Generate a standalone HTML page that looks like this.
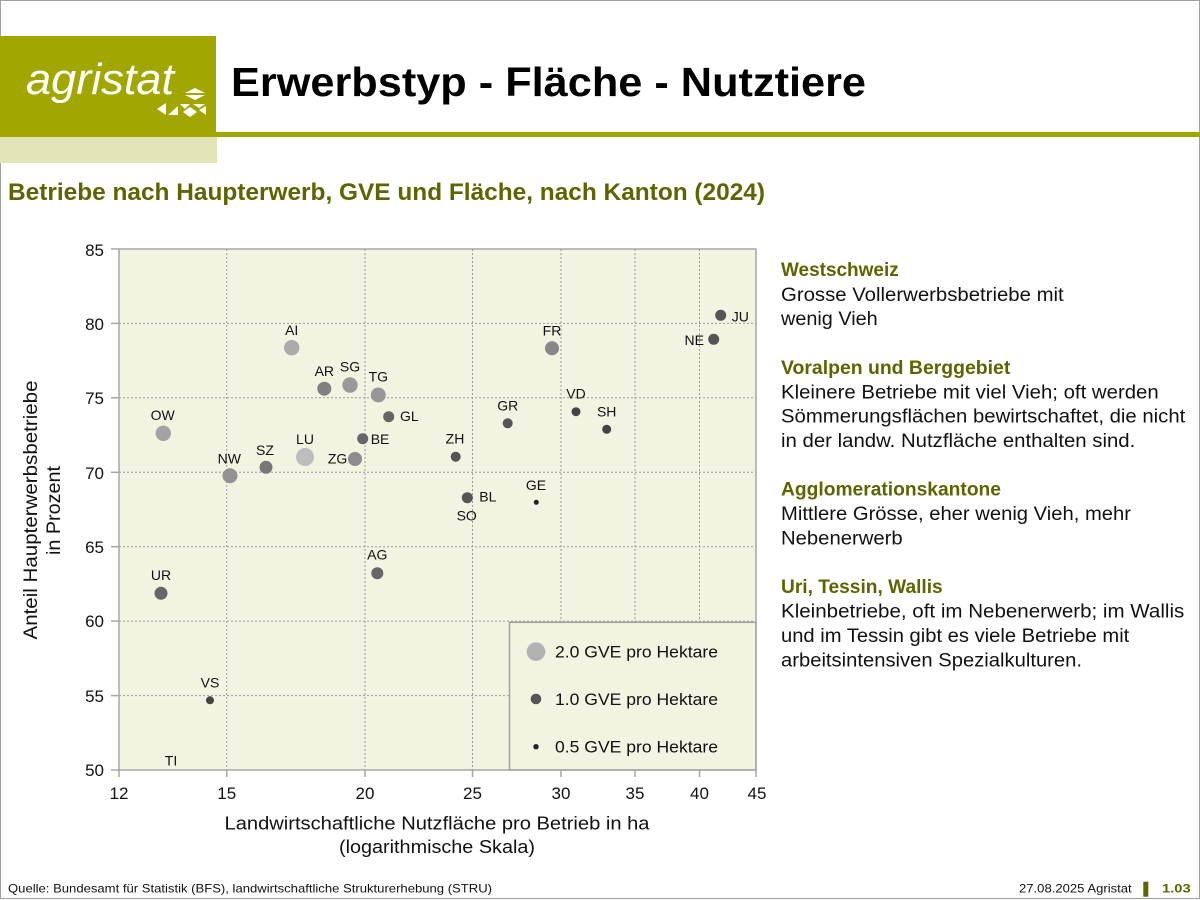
<!DOCTYPE html>
<html><head><meta charset="utf-8"><style>
html,body{margin:0;padding:0;background:#fff;}
svg{display:block;}
text{font-family:"Liberation Sans",sans-serif;}
</style></head><body>
<svg width="1200" height="900" viewBox="0 0 1200 900" xmlns="http://www.w3.org/2000/svg">
<rect x="0" y="0" width="1200" height="900" fill="#fff"/>
<rect x="0.5" y="0.5" width="1199" height="898" fill="none" stroke="#a0a0a0" stroke-width="1"/>

<!-- header -->
<rect x="0" y="36" width="216" height="101" fill="#a1a700"/>
<rect x="0" y="137" width="217" height="26" fill="#e3e5b9"/>
<rect x="216" y="132" width="984" height="5" fill="#a1a700"/>
<text x="26" y="94" font-size="44" font-style="italic" fill="#fff" textLength="148" lengthAdjust="spacingAndGlyphs">agristat</text>
<g fill="#fff">
<polygon points="185,93 195,88 205,93"/>
<polygon points="185,95 205,95 195,100"/>
<polygon points="157,109 166,103 166,115"/>
<polygon points="168,115 178,106 178,115"/>
<polygon points="180,104 190,104 185,109"/>
<polygon points="183,112 190,107 197,112 190,117"/>
<polygon points="193,104 205,104 199,108"/>
<polygon points="199,110 206,106 206,115 "/>
</g>
<text x="231" y="96" font-size="41" font-weight="bold" fill="#000" textLength="635" lengthAdjust="spacingAndGlyphs">Erwerbstyp - Fläche - Nutztiere</text>

<text x="8" y="200" font-size="24" font-weight="bold" fill="#5c6500" textLength="757" lengthAdjust="spacingAndGlyphs">Betriebe nach Haupterwerb, GVE und Fläche, nach Kanton (2024)</text>

<!-- plot area -->
<rect x="119" y="249" width="637" height="521" fill="#f3f3e2"/>
<g stroke="#9a9a9a" stroke-width="1" stroke-dasharray="2,2">
<line x1="119" y1="323.4" x2="756" y2="323.4"/>
<line x1="119" y1="397.8" x2="756" y2="397.8"/>
<line x1="119" y1="472.3" x2="756" y2="472.3"/>
<line x1="119" y1="546.7" x2="756" y2="546.7"/>
<line x1="119" y1="621.1" x2="756" y2="621.1"/>
<line x1="119" y1="695.6" x2="756" y2="695.6"/>
<line x1="226.7" y1="249" x2="226.7" y2="770"/>
<line x1="365" y1="249" x2="365" y2="770"/>
<line x1="472.5" y1="249" x2="472.5" y2="770"/>
<line x1="561" y1="249" x2="561" y2="770"/>
<line x1="635" y1="249" x2="635" y2="770"/>
<line x1="699.5" y1="249" x2="699.5" y2="770"/>
</g>
<!-- legend box -->
<rect x="509.5" y="622.3" width="246.5" height="147.7" fill="#f3f3e2" stroke="#a0a0a0" stroke-width="1.5"/>
<circle cx="536" cy="651.7" r="9.3" fill="#b2b2b2"/>
<circle cx="536" cy="699" r="5.3" fill="#555"/>
<circle cx="536" cy="746.7" r="2.7" fill="#222"/>
<g font-size="17" fill="#111">
<text x="555" y="657.5" textLength="163" lengthAdjust="spacingAndGlyphs">2.0 GVE pro Hektare</text>
<text x="555" y="705" textLength="163" lengthAdjust="spacingAndGlyphs">1.0 GVE pro Hektare</text>
<text x="555" y="752.7" textLength="163" lengthAdjust="spacingAndGlyphs">0.5 GVE pro Hektare</text>
</g>
<!-- plot border -->
<rect x="119" y="249" width="637" height="521" fill="none" stroke="#a6a6a6" stroke-width="1.5"/>
<g stroke="#a6a6a6" stroke-width="1.5">
<line x1="111" y1="249" x2="119" y2="249"/>
<line x1="111" y1="323.4" x2="119" y2="323.4"/>
<line x1="111" y1="397.8" x2="119" y2="397.8"/>
<line x1="111" y1="472.3" x2="119" y2="472.3"/>
<line x1="111" y1="546.7" x2="119" y2="546.7"/>
<line x1="111" y1="621.1" x2="119" y2="621.1"/>
<line x1="111" y1="695.6" x2="119" y2="695.6"/>
<line x1="111" y1="770" x2="119" y2="770"/>
<line x1="119" y1="770" x2="119" y2="777"/>
<line x1="226.7" y1="770" x2="226.7" y2="777"/>
<line x1="365" y1="770" x2="365" y2="777"/>
<line x1="472.5" y1="770" x2="472.5" y2="777"/>
<line x1="561" y1="770" x2="561" y2="777"/>
<line x1="635" y1="770" x2="635" y2="777"/>
<line x1="699.5" y1="770" x2="699.5" y2="777"/>
<line x1="756" y1="770" x2="756" y2="777"/>
</g>
<!-- tick labels -->
<g font-size="17" fill="#111" text-anchor="end">
<text x="104" y="256">85</text>
<text x="104" y="330">80</text>
<text x="104" y="404">75</text>
<text x="104" y="479">70</text>
<text x="104" y="553">65</text>
<text x="104" y="627">60</text>
<text x="104" y="702">55</text>
<text x="104" y="776">50</text>
</g>
<g font-size="17" fill="#111" text-anchor="middle">
<text x="119" y="799">12</text>
<text x="226.7" y="799">15</text>
<text x="365" y="799">20</text>
<text x="472.5" y="799">25</text>
<text x="561" y="799">30</text>
<text x="635" y="799">35</text>
<text x="699.5" y="799">40</text>
<text x="757" y="799">45</text>
</g>
<!-- axis titles -->
<text x="437" y="829.5" font-size="18" fill="#111" text-anchor="middle" textLength="425" lengthAdjust="spacingAndGlyphs">Landwirtschaftliche Nutzfläche pro Betrieb in ha</text>
<text x="437" y="853" font-size="18" fill="#111" text-anchor="middle" textLength="196" lengthAdjust="spacingAndGlyphs">(logarithmische Skala)</text>
<text transform="translate(37,510) rotate(-90)" font-size="19" fill="#111" text-anchor="middle" textLength="259" lengthAdjust="spacingAndGlyphs">Anteil Haupterwerbsbetriebe</text>
<text transform="translate(60,510.5) rotate(-90)" font-size="19" fill="#111" text-anchor="middle" textLength="89" lengthAdjust="spacingAndGlyphs">in Prozent</text>

<!-- points -->
<circle cx="305" cy="457" r="9" fill="#bdbdbd"/>
<circle cx="291.7" cy="347.7" r="7.7" fill="#aaaaaa"/>
<circle cx="324.3" cy="388.7" r="7" fill="#808080"/>
<circle cx="350" cy="385" r="7.7" fill="#9a9a9a"/>
<circle cx="378.3" cy="395" r="7.5" fill="#979797"/>
<circle cx="388.7" cy="416.7" r="5.5" fill="#666"/>
<circle cx="163.3" cy="433.3" r="7.7" fill="#a3a3a3"/>
<circle cx="362.7" cy="438.7" r="5.5" fill="#666"/>
<circle cx="355" cy="459" r="7" fill="#8c8c8c"/>
<circle cx="230" cy="475.7" r="7.5" fill="#939393"/>
<circle cx="266" cy="467.3" r="6.5" fill="#777"/>
<circle cx="455.7" cy="456.7" r="5" fill="#555"/>
<circle cx="720.7" cy="315.3" r="5.5" fill="#555"/>
<circle cx="713.7" cy="339.3" r="5.5" fill="#555"/>
<circle cx="552" cy="348.3" r="7" fill="#888"/>
<circle cx="576" cy="411.7" r="4.5" fill="#444"/>
<circle cx="606.7" cy="429.3" r="4.5" fill="#444"/>
<circle cx="507.7" cy="423.3" r="5" fill="#555"/>
<circle cx="467.3" cy="497.7" r="5.5" fill="#555"/>
<circle cx="536.3" cy="502.3" r="2.5" fill="#222"/>
<circle cx="161" cy="593.3" r="6.5" fill="#666"/>
<circle cx="377.3" cy="573.3" r="6" fill="#666"/>
<circle cx="210" cy="700.3" r="4" fill="#444"/>

<!-- point labels -->
<g font-size="14" fill="#111" text-anchor="middle">
<text x="291.7" y="335">AI</text>
<text x="324.3" y="376">AR</text>
<text x="350" y="371.7">SG</text>
<text x="378.3" y="381.7">TG</text>
<text x="400" y="421" text-anchor="start">GL</text>
<text x="162.7" y="420">OW</text>
<text x="370.7" y="444" text-anchor="start">BE</text>
<text x="305" y="444">LU</text>
<text x="347.3" y="463.3" text-anchor="end">ZG</text>
<text x="229.3" y="463.3">NW</text>
<text x="265" y="455">SZ</text>
<text x="455" y="443.3">ZH</text>
<text x="731.7" y="321.7" text-anchor="start">JU</text>
<text x="704" y="345" text-anchor="end">NE</text>
<text x="552" y="335.7">FR</text>
<text x="576" y="398.3">VD</text>
<text x="606.7" y="416.7">SH</text>
<text x="507.7" y="410.7">GR</text>
<text x="479.3" y="501.7" text-anchor="start">BL</text>
<text x="466.7" y="520.7">SO</text>
<text x="536" y="490">GE</text>
<text x="161" y="580">UR</text>
<text x="377.3" y="559.3">AG</text>
<text x="210" y="687.7">VS</text>
<text x="171" y="765.7">TI</text>
</g>

<!-- right text -->
<g font-size="19" fill="#111">
<text x="781" y="276" font-weight="bold" fill="#5c6500" textLength="117.7" lengthAdjust="spacingAndGlyphs">Westschweiz</text>
<text x="781" y="301" textLength="282.7" lengthAdjust="spacingAndGlyphs">Grosse Vollerwerbsbetriebe mit</text>
<text x="781" y="325" textLength="96.7" lengthAdjust="spacingAndGlyphs">wenig Vieh</text>
<text x="781" y="374" font-weight="bold" fill="#5c6500" textLength="229.3" lengthAdjust="spacingAndGlyphs">Voralpen und Berggebiet</text>
<text x="781" y="398.3" textLength="377.7" lengthAdjust="spacingAndGlyphs">Kleinere Betriebe mit viel Vieh; oft werden</text>
<text x="781" y="422.7" textLength="404.3" lengthAdjust="spacingAndGlyphs">Sömmerungsflächen bewirtschaftet, die nicht</text>
<text x="781" y="447" textLength="354.3" lengthAdjust="spacingAndGlyphs">in der landw. Nutzfläche enthalten sind.</text>
<text x="781" y="495.7" font-weight="bold" fill="#5c6500" textLength="220" lengthAdjust="spacingAndGlyphs">Agglomerationskantone</text>
<text x="781" y="520" textLength="350" lengthAdjust="spacingAndGlyphs">Mittlere Grösse, eher wenig Vieh, mehr</text>
<text x="781" y="544.7" textLength="121.7" lengthAdjust="spacingAndGlyphs">Nebenerwerb</text>
<text x="781" y="593" font-weight="bold" fill="#5c6500" textLength="161.7" lengthAdjust="spacingAndGlyphs">Uri, Tessin, Wallis</text>
<text x="781" y="617.7" textLength="403.3" lengthAdjust="spacingAndGlyphs">Kleinbetriebe, oft im Nebenerwerb; im Wallis</text>
<text x="781" y="642" textLength="348.3" lengthAdjust="spacingAndGlyphs">und im Tessin gibt es viele Betriebe mit</text>
<text x="781" y="666.3" textLength="301" lengthAdjust="spacingAndGlyphs">arbeitsintensiven Spezialkulturen.</text>
</g>

<!-- footer -->
<text x="8" y="892.7" font-size="12" fill="#111" textLength="484" lengthAdjust="spacingAndGlyphs">Quelle: Bundesamt für Statistik (BFS), landwirtschaftliche Strukturerhebung (STRU)</text>
<text x="1019" y="892.7" font-size="12" fill="#111" textLength="112.7" lengthAdjust="spacingAndGlyphs">27.08.2025 Agristat</text>
<rect x="1143.3" y="881.7" width="5" height="15" fill="#5c6500"/>
<text x="1162" y="892.7" font-size="12" font-weight="bold" fill="#5c6500" textLength="28.7" lengthAdjust="spacingAndGlyphs">1.03</text>
</svg>
</body></html>
